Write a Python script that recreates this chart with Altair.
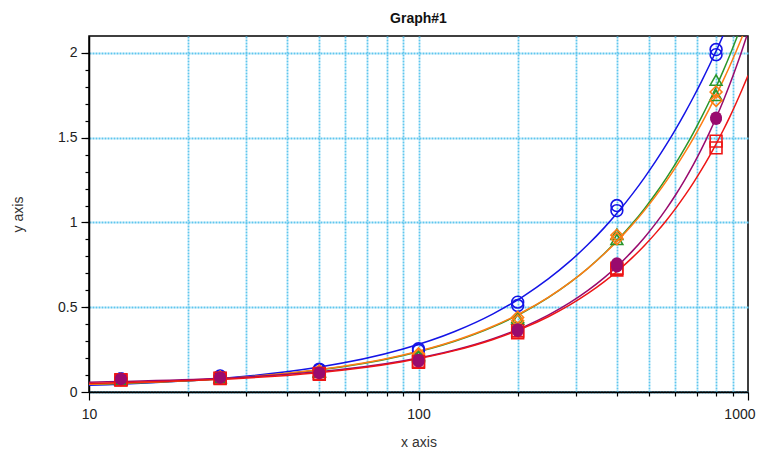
import altair as alt
import pandas as pd

# ---- data ----
x_values = [12.5, 12.5, 25, 25, 50, 50, 100, 100, 200, 200, 400, 400, 800, 800]
blue_y   = [0.075, 0.078, 0.092, 0.095, 0.130, 0.135, 0.245, 0.255, 0.510, 0.530, 1.070, 1.100, 1.990, 2.020]
green_y  = [0.072, 0.074, 0.085, 0.087, 0.118, 0.122, 0.210, 0.220, 0.430, 0.440, 0.900, 0.930, 1.750, 1.840]
orange_y = [0.073, 0.075, 0.086, 0.088, 0.120, 0.125, 0.218, 0.225, 0.420, 0.440, 0.905, 0.925, 1.720, 1.770]
purple_y = [0.075, 0.077, 0.084, 0.086, 0.110, 0.115, 0.180, 0.190, 0.360, 0.370, 0.740, 0.760, 1.610, 1.620]
red_y    = [0.070, 0.072, 0.080, 0.082, 0.105, 0.110, 0.175, 0.180, 0.350, 0.360, 0.720, 0.730, 1.440, 1.480]

series_names  = ["Blue", "Green", "Orange", "Purple", "Red"]
series_values = [blue_y, green_y, orange_y, purple_y, red_y]
series_colors = ["#1414e6", "#2a962a", "#ff7d14", "#990a6e", "#ee1515"]
series_shapes = ["circle", "triangle-up", "diamond", "circle", "square"]
series_filled = [False, False, False, True, False]

x_major = [10, 100, 1000]
x_minor = [20, 30, 40, 50, 60, 70, 80, 90, 100, 200, 300, 400, 500, 600, 700, 800, 900]
y_major = [0, 0.5, 1, 1.5, 2]
y_minor = [round(0.1 * i, 1) for i in range(1, 21)]

rows = []
for name, vals, filled in zip(series_names, series_values, series_filled):
    for xv, yv in zip(x_values, vals):
        rows.append({"series": name, "x": xv, "y": yv, "filled": filled})
df = pd.DataFrame(rows)

FONT = "Liberation Sans"
GRID = "#5fc6ee"

x_scale = alt.Scale(type="log", domain=[10, 1000], nice=False)
y_scale = alt.Scale(domain=[0, 2.1], nice=False, zero=False)
color_scale = alt.Scale(domain=series_names, range=series_colors)
shape_scale = alt.Scale(domain=series_names, range=series_shapes)

base = alt.Chart(df)

# fitted curves, carrying the minor-tick axes and the grid
curves = base.transform_regression(
    "x", "y", groupby=["series"], method="poly", order=2, extent=[10, 1000]
).mark_line(strokeWidth=1.5, clip=True, interpolate="monotone").encode(
    x=alt.X("x:Q", scale=x_scale, axis=alt.Axis(
        orient="bottom", values=x_minor, labels=False, domain=False, tickSize=4,
        grid=True, gridColor=GRID, gridDash=[2, 1], gridWidth=1.8, title=None)),
    y=alt.Y("y:Q", scale=y_scale, axis=alt.Axis(
        orient="left", values=y_minor, labels=False, domain=False, tickSize=4,
        grid=False, title=None)),
    color=alt.Color("series:N", scale=color_scale, legend=None),
    detail="series:N",
)

open_pts = base.transform_filter("!datum.filled").mark_point(
    filled=False, size=140, strokeWidth=1.6, opacity=1, clip=True
).encode(
    x=alt.X("x:Q", scale=x_scale, axis=alt.Axis(
        orient="bottom", values=x_major, format="~g", tickSize=8, grid=False,
        labelFlush=False,
        labelAlign=alt.ExprRef(expr="datum.value == 1000 ? 'right' : 'center'"),
        labelOffset=alt.ExprRef(expr="datum.value == 1000 ? 7 : 0"),
        labelFontSize=14, labelPadding=7, title="x axis", titlePadding=14)),
    y=alt.Y("y:Q", scale=y_scale, axis=alt.Axis(
        orient="left", values=y_major, format="~g", tickSize=8, grid=True,
        gridColor=GRID, gridDash=[2, 1], gridWidth=1.8, labelFlush=False,
        labelFontSize=14, labelPadding=4, title="y axis", titlePadding=32)),
    color=alt.Color("series:N", scale=color_scale, legend=None),
    shape=alt.Shape("series:N", scale=shape_scale, legend=None),
)

filled_pts = base.transform_filter("datum.filled").mark_point(
    filled=True, size=140, opacity=1, clip=True
).encode(
    x=alt.X("x:Q", scale=x_scale, axis=None),
    y=alt.Y("y:Q", scale=y_scale, axis=None),
    color=alt.Color("series:N", scale=color_scale, legend=None),
    shape=alt.Shape("series:N", scale=shape_scale, legend=None),
)

chart = alt.layer(curves, open_pts, filled_pts).resolve_axis(
    x="independent", y="independent"
).properties(
    width=659, height=356, autosize="none",
    padding={"left": 81, "top": 28, "right": 8, "bottom": 60},
    title=alt.Title("Graph#1", fontSize=14, fontWeight="bold", font=FONT,
                    color="#111", offset=10, anchor="middle"),
).configure_view(
    stroke="black", strokeWidth=1.5
).configure_axis(
    domainColor="black", domainWidth=1.5, tickColor="black", tickWidth=1.2,
    labelFont=FONT, titleFont=FONT, labelColor="#222", titleColor="#333",
    titleFontSize=14, titleFontWeight="normal",
)

chart.save("out.html", embed_options={"renderer": "svg", "actions": False})
